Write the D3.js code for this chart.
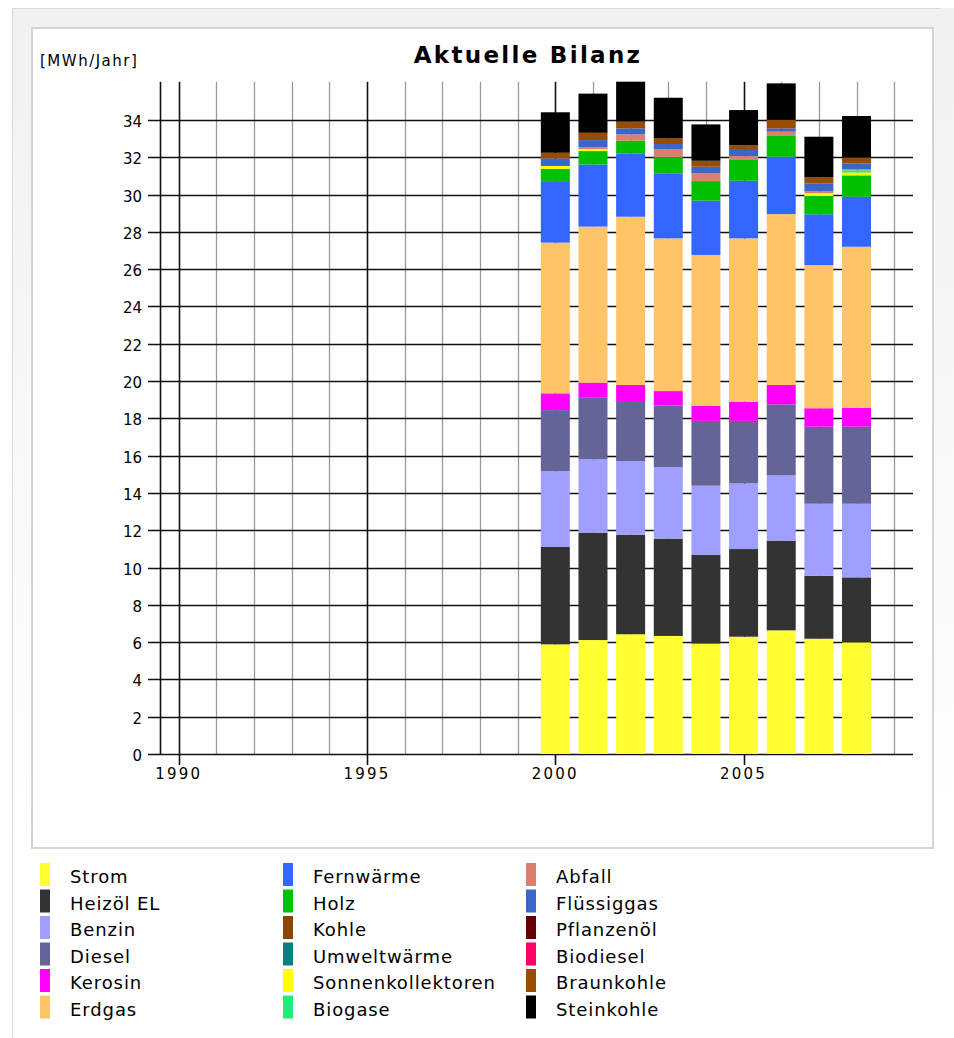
<!DOCTYPE html>
<html>
<head>
<meta charset="utf-8">
<script src="https://cdn.jsdelivr.net/npm/d3@7"></script>
<style>
  html, body { margin: 0; padding: 0; background: #fff; }
  svg { display: block; font-family: "DejaVu Sans", Verdana, sans-serif; }
</style>
</head>
<body>
<svg id="chart" width="954" height="1038"></svg>
<script>
// ---- data ----
const years = [2000, 2001, 2002, 2003, 2004, 2005, 2006, 2007, 2008];
const carriers = ["Strom", "Heizöl EL", "Benzin", "Diesel", "Kerosin", "Erdgas",
  "Fernwärme", "Holz", "Kohle", "Umweltwärme", "Sonnenkollektoren", "Biogase",
  "Abfall", "Flüssiggas", "Pflanzenöl", "Biodiesel", "Braunkohle", "Steinkohle"];
const colors = ["#ffff33", "#333333", "#9f9fff", "#646496", "#ff00ff", "#ffc466",
  "#3366ff", "#00c000", "#8b4500", "#008080", "#ffff00", "#22ee77",
  "#d98070", "#3a66c8", "#660000", "#ff0066", "#994c00", "#000000"];

const strom       = [5.88, 6.11, 6.42, 6.33, 5.92, 6.29, 6.63, 6.18, 5.99];
const heizoel     = [5.22, 5.76, 5.34, 5.22, 4.75, 4.70, 4.81, 3.38, 3.48];
const benzin      = [4.07, 3.93, 3.95, 3.84, 3.72, 3.52, 3.50, 3.86, 3.95];
const diesel      = [3.27, 3.30, 3.22, 3.29, 3.47, 3.35, 3.81, 4.13, 4.13];
const kerosin     = [0.90, 0.81, 0.86, 0.78, 0.82, 1.03, 1.04, 0.99, 1.02];
const erdgas      = [8.08, 8.37, 9.02, 8.19, 8.08, 8.76, 9.16, 7.68, 8.63];
const fernwaerme  = [3.30, 3.33, 3.40, 3.49, 2.91, 3.09, 3.08, 2.72, 2.68];
const holz        = [0.65, 0.72, 0.68, 0.85, 1.05, 1.11, 1.11, 0.98, 1.15];
const kohle       = [0, 0, 0, 0, 0, 0, 0, 0, 0];
const umwelt      = [0, 0, 0, 0, 0, 0, 0, 0, 0];
const sonnen      = [0.16, 0.11, 0, 0, 0, 0, 0, 0.15, 0.15];
const biogase     = [0, 0, 0, 0, 0, 0, 0, 0, 0.12];
const abfall      = [0, 0.09, 0.34, 0.43, 0.42, 0.21, 0.23, 0.10, 0.05];
const fluessiggas = [0.41, 0.39, 0.32, 0.29, 0.35, 0.33, 0.18, 0.43, 0.32];
const pflanzenoel = [0, 0, 0, 0, 0, 0, 0, 0, 0];
const biodiesel   = [0, 0, 0, 0, 0, 0, 0, 0, 0];
const braunkohle  = [0.30, 0.39, 0.36, 0.30, 0.32, 0.26, 0.45, 0.32, 0.32];
const steinkohle  = [2.17, 2.10, 2.14, 2.18, 1.95, 1.88, 1.96, 2.18, 2.22];

const seriesValues = [strom, heizoel, benzin, diesel, kerosin, erdgas, fernwaerme,
  holz, kohle, umwelt, sonnen, biogase, abfall, fluessiggas, pflanzenoel, biodiesel,
  braunkohle, steinkohle];

const yTicks = [0, 2, 4, 6, 8, 10, 12, 14, 16, 18, 20, 22, 24, 26, 28, 30, 32, 34];
const xYearsGrid = d3.range(1990, 2010);
const xMajorYears = [1990, 1995, 2000, 2005];
const titleText = "Aktuelle Bilanz";
const unitText = "[MWh/Jahr]";

// ---- build table ----
const table = years.map((yr, i) => {
  const row = { year: yr };
  carriers.forEach((c, k) => row[c] = seriesValues[k][i]);
  return row;
});
const stacked = d3.stack().keys(carriers)(table);
const maxTotal = d3.max(table, r => d3.sum(carriers, c => r[c]));

// ---- layout ----
const svg = d3.select("#chart");
const plotLeft = 160, plotRight = 913, plotTop = 81.7, plotBottom = 754;

const x = d3.scaleLinear().domain([1989.5, 2009.5]).range([plotLeft, plotRight]);
const y = d3.scaleLinear().domain([0, maxTotal]).range([plotBottom, plotTop]);
const color = d3.scaleOrdinal().domain(carriers).range(colors);
const barW = 29;

// background frames
const defs = svg.append("defs");
const grad = defs.append("linearGradient").attr("id", "bg").attr("x1", 0).attr("y1", 0).attr("x2", 0).attr("y2", 1);
grad.append("stop").attr("offset", "0%").attr("stop-color", "#f1f1f1");
grad.append("stop").attr("offset", "100%").attr("stop-color", "#ffffff");
svg.append("rect").attr("x", 12).attr("y", 8).attr("width", 942).attr("height", 850).attr("fill", "url(#bg)");
svg.append("line").attr("x1", 12.5).attr("x2", 12.5).attr("y1", 8).attr("y2", 1038).attr("stroke", "#d8d8d8");
svg.append("line").attr("x1", 12).attr("x2", 940).attr("y1", 8.5).attr("y2", 8.5).attr("stroke", "#d8d8d8");
svg.append("rect").attr("x", 32).attr("y", 28).attr("width", 901).attr("height", 820)
  .attr("fill", "#fff").attr("stroke", "#d4d4d4").attr("stroke-width", 2);

// grid
const g = svg.append("g");
g.selectAll("line.vg").data(xYearsGrid).join("line")
  .attr("x1", d => Math.round(x(d)) + 0.5).attr("x2", d => Math.round(x(d)) + 0.5)
  .attr("y1", plotTop).attr("y2", d => xMajorYears.includes(d) ? plotBottom + 11 : plotBottom)
  .attr("stroke", d => xMajorYears.includes(d) ? "#111" : "#9a9a9a")
  .attr("stroke-width", d => xMajorYears.includes(d) ? 1.6 : 1.3);

g.selectAll("line.hg").data(yTicks).join("line")
  .attr("x1", 148).attr("x2", plotRight)
  .attr("y1", d => Math.round(y(d)) + 0.5).attr("y2", d => Math.round(y(d)) + 0.5)
  .attr("stroke", "#111").attr("stroke-width", 1.4);

// y axis line
g.append("line").attr("x1", plotLeft + 0.5).attr("x2", plotLeft + 0.5).attr("y1", plotTop).attr("y2", plotBottom)
  .attr("stroke", "#111").attr("stroke-width", 1.6);

// bars
svg.append("g").selectAll("g").data(stacked).join("g")
  .attr("fill", d => color(d.key))
  .selectAll("rect").data(d => d).join("rect")
  .attr("x", d => x(d.data.year) - barW / 2)
  .attr("width", barW)
  .attr("y", d => y(d[1]))
  .attr("height", d => Math.max(0, y(d[0]) - y(d[1])));

// y labels
svg.append("g").selectAll("text").data(yTicks).join("text")
  .attr("x", 142).attr("y", d => y(d) + 7)
  .attr("text-anchor", "end").attr("font-size", 15).attr("fill", "#000")
  .text(d => d);

// x labels
svg.append("g").selectAll("text").data(xMajorYears).join("text")
  .attr("x", d => x(d)).attr("y", 779)
  .attr("text-anchor", "middle").attr("font-size", 15).attr("letter-spacing", 2.2)
  .attr("fill", "#000")
  .text(d => d);

// title & unit
svg.append("text").attr("x", 528).attr("y", 63).attr("text-anchor", "middle")
  .attr("font-size", 23).attr("font-weight", "bold").attr("letter-spacing", 2.3)
  .attr("fill", "#000").text(titleText);
svg.append("text").attr("x", 40).attr("y", 66)
  .attr("font-size", 15).attr("letter-spacing", 1.5).attr("fill", "#000").text(unitText);

// legend
const colX = [40, 283, 526];
const legend = svg.append("g");
carriers.forEach((c, k) => {
  const col = Math.floor(k / 6), row = k % 6;
  const ty = 863 + row * 26.5;
  legend.append("rect").attr("x", colX[col]).attr("y", ty).attr("width", 10).attr("height", 23)
    .attr("fill", color(c));
  legend.append("text").attr("x", colX[col] + 30).attr("y", ty + 20)
    .attr("font-size", 18).attr("letter-spacing", 0.9).attr("fill", "#000").text(c);
});
</script>
</body>
</html>
